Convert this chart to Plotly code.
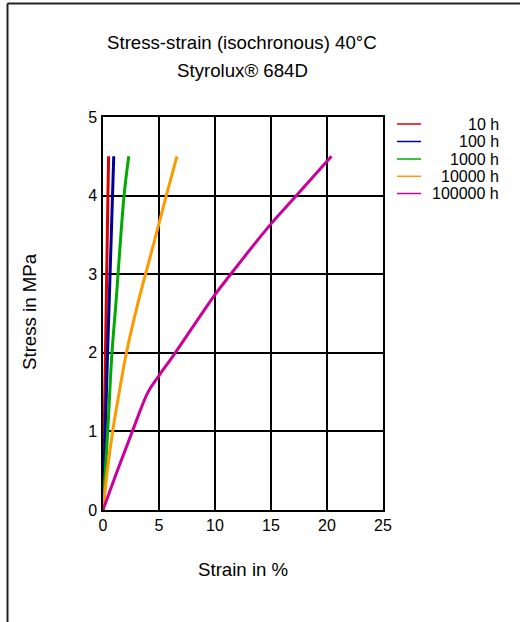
import plotly.graph_objects as go

# ---- data ----
series_names = ["10 h", "100 h", "1000 h", "10000 h", "100000 h"]
series_colors = ["#dd0000", "#000096", "#00aa00", "#ff9900", "#cc0099"]

stress_10h = [0, 1, 2, 3, 4, 4.5]
strain_10h = [0, 0.11, 0.22, 0.33, 0.44, 0.5]

stress_100h = [0, 1, 2, 3, 4, 4.5]
strain_100h = [0, 0.2, 0.41, 0.63, 0.85, 0.96]

stress_1000h = [0, 1, 2, 2.68, 4, 4.5]
strain_1000h = [0, 0.42, 0.8, 1.18, 1.88, 2.3]

stress_10000h = [0, 0.5, 1, 1.5, 2, 2.68, 3.17, 4, 4.5]
strain_10000h = [0, 0.38, 0.86, 1.45, 2.09, 3.2, 4.12, 5.65, 6.6]

stress_100000h = [0, 0.5, 1, 1.5, 1.71, 2, 2.74, 3, 3.64, 4, 4.5]
strain_100000h = [0, 1.28, 2.62, 4.02, 5.0, 6.45, 10.0, 11.4, 15.0, 17.27, 20.4]

x_ticks = [0, 5, 10, 15, 20, 25]
y_ticks = [0, 1, 2, 3, 4, 5]

title_lines = ["Stress-strain (isochronous) 40°C", "Styrolux® 684D"]
x_title = "Strain in %"
y_title = "Stress in MPa"

FONT = "Liberation Sans, Arial, sans-serif"

strains = [strain_10h, strain_100h, strain_1000h, strain_10000h, strain_100000h]
stresses = [stress_10h, stress_100h, stress_1000h, stress_10000h, stress_100000h]

fig = go.Figure()
for name, color, xs, ys in zip(series_names, series_colors, strains, stresses):
    fig.add_trace(go.Scatter(
        x=xs, y=ys, mode="lines", name=name,
        line=dict(color=color, width=3, shape="spline", smoothing=1.0),
        showlegend=False,
    ))

# plot area geometry (pixels)
L, R, T, B = 103, 137, 117, 112
W, H = 520 - L - R, 622 - T - B

def px(x):
    return (x - L) / W

def py(y):
    return (622 - B - y) / H

shapes = []
annotations = []

# manual legend (right-aligned labels as in the reference)
leg_y = [124, 141.5, 159, 176.3, 193.5]
for name, color, yy in zip(series_names, series_colors, leg_y):
    shapes.append(dict(type="line", xref="paper", yref="paper",
                       x0=px(397), x1=px(421), y0=py(yy), y1=py(yy),
                       line=dict(color=color, width=1.5)))
    annotations.append(dict(xref="paper", yref="paper", x=px(501), y=py(yy),
                            text=name, showarrow=False, xanchor="right",
                            yanchor="middle",
                            font=dict(family=FONT, size=16, color="#000")))

# outer frame (top and left edges visible)
shapes.append(dict(type="line", xref="paper", yref="paper",
                   x0=px(7.5), x1=px(7.5), y0=py(640), y1=py(3.5),
                   line=dict(color="#222", width=2)))
shapes.append(dict(type="line", xref="paper", yref="paper",
                   x0=px(7.5), x1=px(540), y0=py(3.5), y1=py(3.5),
                   line=dict(color="#222", width=2)))

# titles
annotations.append(dict(xref="paper", yref="paper", x=px(242), y=py(42),
                        text=title_lines[0], showarrow=False, xanchor="center",
                        yanchor="middle", font=dict(family=FONT, size=18.67, color="#000")))
annotations.append(dict(xref="paper", yref="paper", x=px(242), y=py(70),
                        text=title_lines[1], showarrow=False, xanchor="center",
                        yanchor="middle", font=dict(family=FONT, size=18.67, color="#000")))
annotations.append(dict(xref="paper", yref="paper", x=px(243), y=py(569),
                        text=x_title, showarrow=False, xanchor="center",
                        yanchor="middle", font=dict(family=FONT, size=18.67, color="#000")))
annotations.append(dict(xref="paper", yref="paper", x=px(29), y=py(312),
                        text=y_title, showarrow=False, xanchor="center",
                        yanchor="middle", textangle=-90,
                        font=dict(family=FONT, size=18.67, color="#000")))

fig.update_layout(
    width=520, height=622,
    margin=dict(l=L, r=R, t=T, b=B),
    paper_bgcolor="white", plot_bgcolor="white",
    font=dict(family=FONT, size=16, color="#000"),
    shapes=shapes, annotations=annotations,
    showlegend=False,
)
fig.update_xaxes(
    range=[0, 25], tickvals=x_ticks, ticktext=[str(v) for v in x_ticks],
    showgrid=True, gridcolor="#000", gridwidth=1.5,
    showline=True, linecolor="#000", linewidth=1.5, mirror=True,
    zeroline=False, ticks="", tickfont=dict(family=FONT, size=16, color="#000"),
    fixedrange=True,
)
fig.update_yaxes(
    range=[0, 5], tickvals=y_ticks, ticktext=[str(v) for v in y_ticks],
    showgrid=True, gridcolor="#000", gridwidth=1.5,
    showline=True, linecolor="#000", linewidth=1.5, mirror=True,
    zeroline=False, ticks="", ticklabelstandoff=1,
    tickfont=dict(family=FONT, size=16, color="#000"),
    fixedrange=True,
)

fig.write_html("out.html", config={"displayModeBar": False})
